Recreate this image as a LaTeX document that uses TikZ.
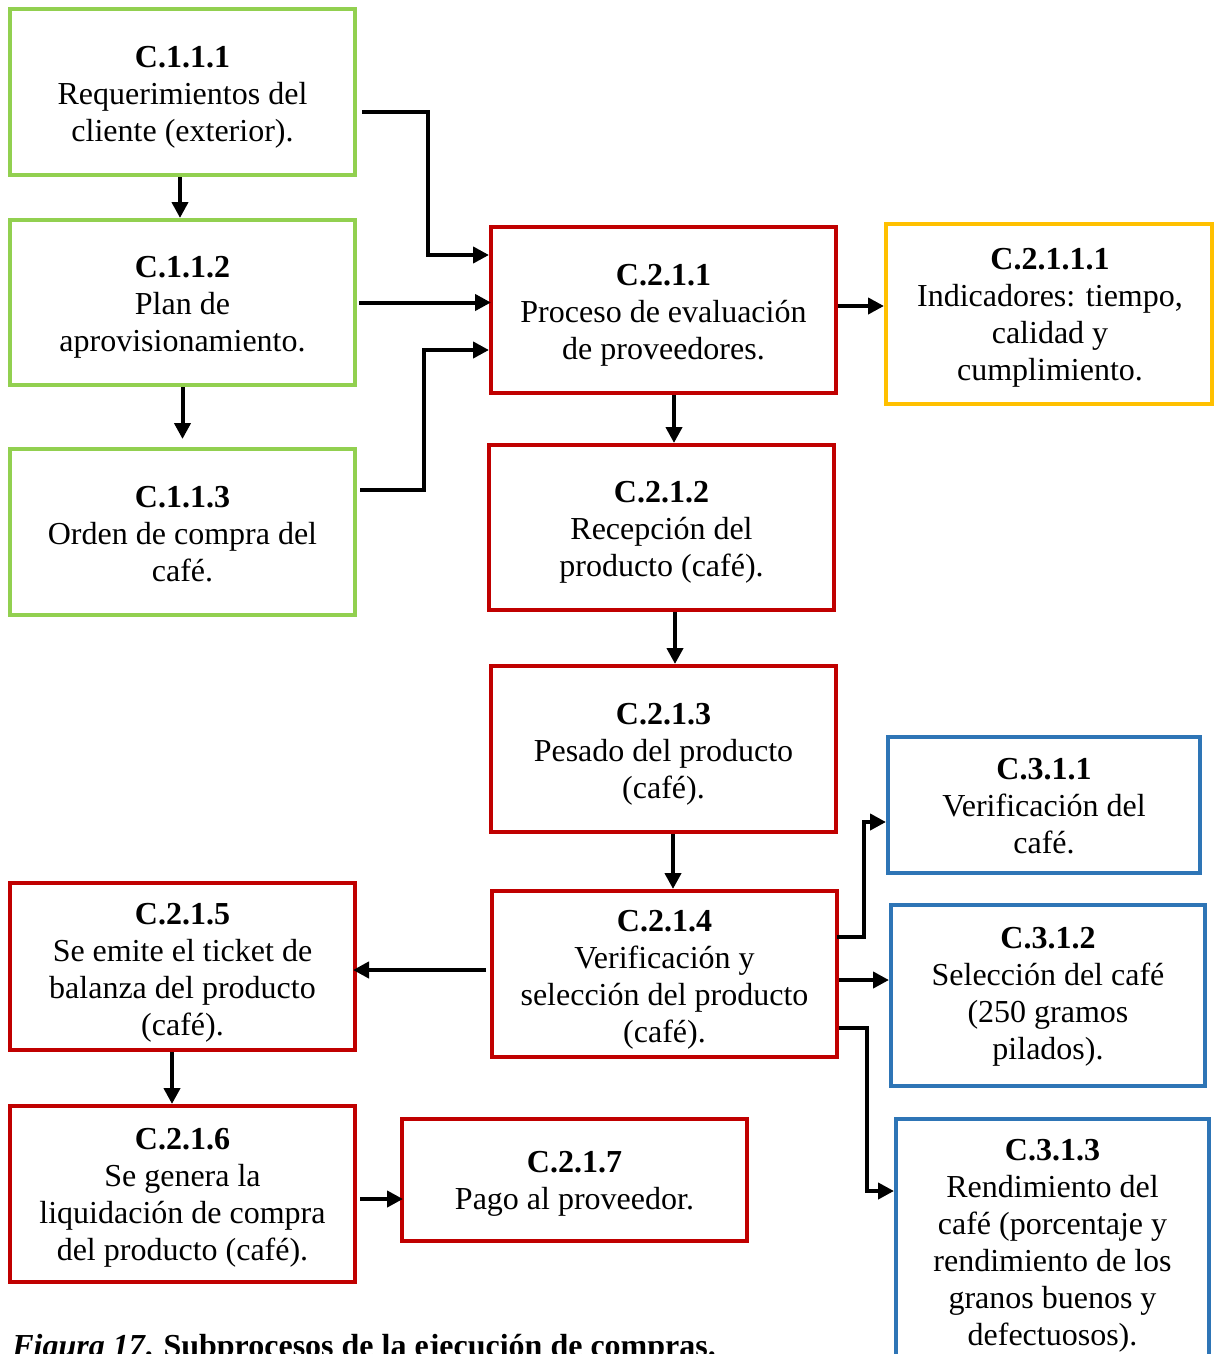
\documentclass[tikz,border=0pt]{standalone}
\usepackage{fontspec}
\setmainfont{Liberation Serif}
\usetikzlibrary{arrows.meta}
\definecolor{boxgreen}{HTML}{92D050}
\definecolor{boxred}{HTML}{C00000}
\definecolor{boxyellow}{HTML}{FFC000}
\definecolor{boxblue}{HTML}{2E75B6}

\begin{document}
\begin{tikzpicture}[x=0.5pt,y=-0.5pt,
  box/.style={draw=#1, line width=2pt, fill=white, inner sep=0pt},
  lbl/.style={inner sep=0pt, align=center, font=\fontsize{16}{18.5}\selectfont},
  arr/.style={line width=2pt, -{Triangle[length=8pt,width=8pt]}}
]
\useasboundingbox (0,0) rectangle (1214,1354);
\clip (0,0) rectangle (1214,1354);
\fill[white] (0,0) rectangle (1214,1354);

% inputs
\node[box=boxgreen, minimum width=172.5pt, minimum height=83pt] (a111) at (182.5,92) {};
\node[lbl] (a111t) at ([yshift=-2.5pt]a111.center)
  {\textbf{C.1.1.1}\\Requerimientos del\\cliente (exterior).};
\node[box=boxgreen, minimum width=172.5pt, minimum height=82.5pt] (a112) at (182.5,302.5) {};
\node[lbl] (a112t) at ([yshift=-2.5pt]a112.center)
  {\textbf{C.1.1.2}\\Plan de\\aprovisionamiento.};
\node[box=boxgreen, minimum width=172.5pt, minimum height=83pt] (a113) at (182.5,532) {};
\node[lbl] (a113t) at ([yshift=-1pt]a113.center)
  {\textbf{C.1.1.3}\\Orden de compra del\\café.};

% main process chain
\node[box=boxred, minimum width=172.5pt, minimum height=83pt] (b211) at (663.5,310) {};
\node[lbl] (b211t) at ([yshift=-2.5pt]b211.center)
  {\textbf{C.2.1.1}\\Proceso de evaluación\\de proveedores.};
\node[box=boxyellow, minimum width=163pt, minimum height=90pt] (b2111) at (1049,314) {};
\node[lbl] (b2111t) at ([shift={(0.5pt,-2pt)}]b2111.center)
  {\textbf{C.2.1.1.1}\\Indicadores: tiempo,\\calidad y\\cumplimiento.};
\node[box=boxred, minimum width=172.5pt, minimum height=82.5pt] (b212) at (661.5,527.5) {};
\node[lbl] (b212t) at ([yshift=-2.5pt]b212.center)
  {\textbf{C.2.1.2}\\Recepción del\\producto (café).};
\node[box=boxred, minimum width=172.5pt, minimum height=83pt] (b213) at (663.5,749) {};
\node[lbl] (b213t) at ([yshift=-2.5pt]b213.center)
  {\textbf{C.2.1.3}\\Pesado del producto\\(café).};
\node[box=boxred, minimum width=172.5pt, minimum height=83pt] (b214) at (664.5,974) {};
\node[lbl] (b214t) at ([yshift=-3pt]b214.center)
  {\textbf{C.2.1.4}\\Verificación y\\selección del producto\\(café).};
\node[box=boxred, minimum width=172.5pt, minimum height=83.5pt] (b215) at (182.5,966.5) {};
\node[lbl] (b215t) at ([yshift=-3pt]b215.center)
  {\textbf{C.2.1.5}\\Se emite el ticket de\\balanza del producto\\(café).};
\node[box=boxred, minimum width=172.5pt, minimum height=88pt] (b216) at (182.5,1194) {};
\node[lbl] (b216t) at ([yshift=-2pt]b216.center)
  {\textbf{C.2.1.6}\\Se genera la\\liquidación de compra\\del producto (café).};
\node[box=boxred, minimum width=172.5pt, minimum height=61pt] (b217) at (574.5,1180) {};
\node[lbl] (b217t) at ([yshift=-2pt]b217.center)
  {\textbf{C.2.1.7}\\Pago al proveedor.};

% quality checks
\node[box=boxblue, minimum width=156pt, minimum height=68pt] (c311) at (1044,805) {};
\node[lbl] (c311t) at ([yshift=-0.5pt]c311.center)
  {\textbf{C.3.1.1}\\Verificación del\\café.};
\node[box=boxblue, minimum width=157pt, minimum height=90.5pt] (c312) at (1048,995.5) {};
\node[lbl] (c312t) at ([yshift=-0.5pt]c312.center)
  {\textbf{C.3.1.2}\\Selección del café\\(250 gramos\\pilados).};
\node[box=boxblue, minimum width=156.5pt, minimum height=123pt] (c313) at (1052.5,1242) {};
\node[lbl] (c313t) at ([yshift=-2pt]c313.center)
  {\textbf{C.3.1.3}\\Rendimiento del\\café (porcentaje y\\rendimiento de los\\granos buenos y\\defectuosos).};

% connectors
\draw[arr] ([xshift=-1.25pt]a111.south) -- ([xshift=-1.25pt]a111.south |- a112.north);
\draw[arr] (a112.south) -- ([yshift=4pt]a113.north);
\draw[arr] ([shift={(2.5pt,-10pt)}]a111.east) -- ++(33pt,0) |- ([yshift=27.5pt]b211.west);
\draw[arr] ([xshift=1pt]a112.east) -- ([xshift=1pt]a112.east -| b211.west);
\draw[arr] ([shift={(1.5pt,21pt)}]a113.east) -- ++(32pt,0) |- ([yshift=-20pt]b211.west);
\draw[arr] ([yshift=2pt]b211.east) -- ([yshift=2pt]b211.east -| b2111.west);
\draw[arr] ([xshift=5.25pt]b211.south) -- ([xshift=5.25pt]b211.south |- b212.north);
\draw[arr] ([xshift=6.75pt]b212.south) -- ([xshift=6.75pt]b212.south |- b213.north);
\draw[arr] ([xshift=4.75pt]b213.south) -- ([xshift=4.75pt]b213.south |- b214.north);
\draw[arr] ([shift={(-2pt,2pt)}]b214.west) -- ([shift={(-2pt,2pt)}]b214.west -| b215.east);
\draw[arr] ([shift={(-1pt,18.5pt)}]b214.east) -- ++(13.5pt,0) |- ([yshift=-8.5pt]c311.west);
\draw[arr] ([yshift=-3pt]b214.east) -- ([yshift=-3pt]b214.east -| c312.west);
\draw[arr] ([yshift=-27pt]b214.east) -- ++(14pt,0) |- ([yshift=25.5pt]c313.west);
\draw[arr] ([xshift=-5.25pt]b215.south) -- ([xshift=-5.25pt]b215.south |- b216.north);
\draw[arr] ([shift={(1.5pt,-2.5pt)}]b216.east) -- ([shift={(1.5pt,-2.5pt)}]b216.east -| b217.west);

% caption
\node[anchor=base west, inner sep=0pt, font=\fontsize{16}{18}\selectfont\bfseries] (cap) at (12,1356)
  {\textit{Figura 17}. Subprocesos de la ejecución de compras.};
\end{tikzpicture}
\end{document}
